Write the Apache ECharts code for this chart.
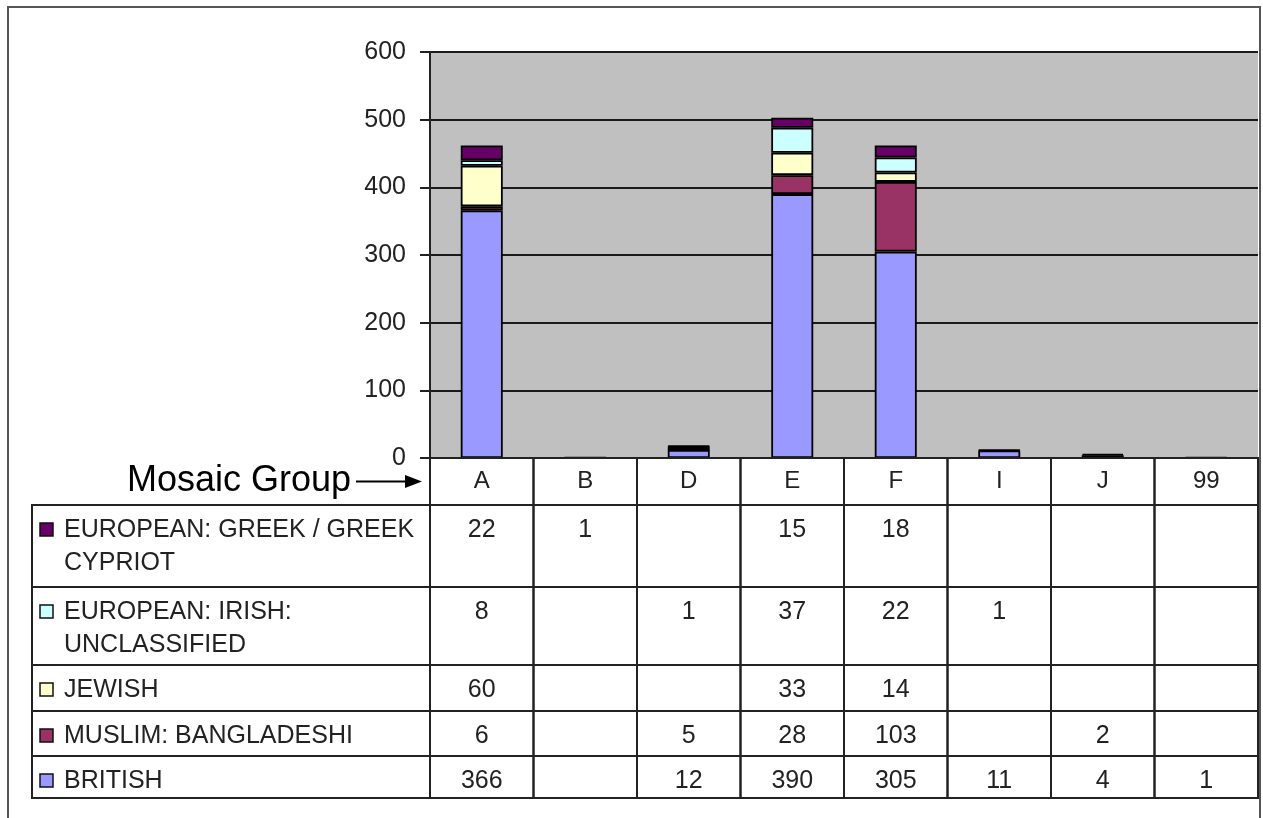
<!DOCTYPE html>
<html>
<head>
<meta charset="utf-8">
<title>Mosaic Group</title>
<script src="https://cdn.jsdelivr.net/npm/echarts@6/dist/echarts.min.js"></script>
<style>
  html, body { margin: 0; padding: 0; background: #fff; }
  #chart { width: 1263px; height: 818px; }
</style>
</head>
<body>
<div id="chart"></div>
<script>
// ---- data ----
const categories = ['A', 'B', 'D', 'E', 'F', 'I', 'J', '99'];
const british           = [366, null, 12, 390, 305, 11, 4, 1];
const muslimBangladeshi = [6, null, 5, 28, 103, null, 2, null];
const jewish            = [60, null, null, 33, 14, null, null, null];
const irishUnclassified = [8, null, 1, 37, 22, 1, null, null];
const greekCypriot      = [22, 1, null, 15, 18, null, null, null];
const yTicks = [0, 100, 200, 300, 400, 500, 600];
const axisTitle = 'Mosaic Group';

// stacking order, bottom to top
const seriesDefs = [
  { name: 'BRITISH', values: british, color: '#9999ff' },
  { name: 'MUSLIM: BANGLADESHI', values: muslimBangladeshi, color: '#993366' },
  { name: 'JEWISH', values: jewish, color: '#ffffcc' },
  { name: 'EUROPEAN: IRISH: UNCLASSIFIED', values: irishUnclassified, color: '#ccffff' },
  { name: 'EUROPEAN: GREEK / GREEK CYPRIOT', values: greekCypriot, color: '#660066' }
];
// data table lists the series top to bottom
const tableSeries = seriesDefs.slice().reverse();

// ---- layout ----
const FONT = '"Liberation Sans", Arial, sans-serif';
const TEXT = '#222';
const LINE = '#222';
const PLOT_LEFT = 430, PLOT_RIGHT = 5, PLOT_TOP = 52, PLOT_BOTTOM_Y = 458;
const LEGEND_LEFT = 32;
// row edges of the data table, in px below the category axis
const ROW_EDGES = [0, 47, 129, 207, 253, 298, 340];
const TABLE_HEIGHT = ROW_EDGES[ROW_EDGES.length - 1];

const chart = echarts.init(document.getElementById('chart'), null, { renderer: 'canvas' });

// one datum per table cell: [column, row]; row 0 is the category header
const tableCells = [];
for (let r = 0; r < ROW_EDGES.length - 1; r++) {
  for (let c = 0; c < categories.length; c++) tableCells.push([c, r]);
}

function renderTableCell(params, api) {
  const c = api.value(0);
  const r = api.value(1);
  const top = api.coord([c, ROW_EDGES[r]])[1];
  const bottom = api.coord([c, ROW_EDGES[r + 1]])[1];
  const cx = api.coord([c, 0])[0];
  const w = api.size([1, 0])[0];
  const children = [{
    type: 'rect',
    shape: { x: cx - w / 2, y: top, width: w, height: bottom - top },
    style: { fill: 'none', stroke: LINE, lineWidth: 2 }
  }];
  if (r > 0) {
    const s = tableSeries[r - 1];
    const v = s.values[c];
    if (v !== null && v !== undefined) {
      children.push({
        type: 'text',
        style: {
          x: cx, y: top + 25, text: String(v),
          align: 'center', verticalAlign: 'middle',
          font: '25px ' + FONT, fill: TEXT
        }
      });
    }
    if (c === 0) {
      const left = cx - w / 2;
      children.push({
        type: 'rect',
        shape: { x: LEGEND_LEFT, y: top, width: left - LEGEND_LEFT, height: bottom - top },
        style: { fill: 'none', stroke: LINE, lineWidth: 2 }
      });
      children.push({
        type: 'rect',
        shape: { x: LEGEND_LEFT + 8, y: top + 18, width: 13, height: 13 },
        style: { fill: s.color, stroke: '#111', lineWidth: 1.5 }
      });
      children.push({
        type: 'text',
        style: {
          x: LEGEND_LEFT + 32, y: top + 9, text: s.name,
          width: 362, overflow: 'break', lineHeight: 33,
          align: 'left', verticalAlign: 'top',
          font: '25px ' + FONT, fill: TEXT
        }
      });
    }
  }
  return { type: 'group', children: children };
}

const barSeries = seriesDefs.map(function (s) {
  return {
    name: s.name,
    type: 'bar',
    stack: 'total',
    xAxisIndex: 0,
    yAxisIndex: 0,
    barWidth: 42,
    data: s.values,
    itemStyle: { color: s.color, borderColor: '#000', borderWidth: 1.8 },
    emphasis: { disabled: true },
    z: 3
  };
});

const option = {
  animation: false,
  backgroundColor: '#ffffff',
  textStyle: { fontFamily: FONT },
  grid: [
    {
      left: PLOT_LEFT, right: PLOT_RIGHT, top: PLOT_TOP, bottom: 818 - PLOT_BOTTOM_Y,
      show: true, backgroundColor: '#c0c0c0', borderWidth: 0
    },
    {
      left: PLOT_LEFT, right: PLOT_RIGHT, top: PLOT_BOTTOM_Y, height: TABLE_HEIGHT,
      show: false
    }
  ],
  xAxis: [
    {
      gridIndex: 0, type: 'category', data: categories,
      axisLine: { show: true, lineStyle: { color: LINE, width: 2 } },
      axisTick: { show: false },
      axisLabel: {
        show: true, margin: 23, verticalAlign: 'middle',
        fontSize: 24, fontFamily: FONT, color: TEXT
      },
      splitLine: { show: false }
    },
    {
      gridIndex: 1, type: 'category', data: categories, show: false
    }
  ],
  yAxis: [
    {
      gridIndex: 0, type: 'value', min: yTicks[0], max: yTicks[yTicks.length - 1], interval: 100,
      axisLine: { show: true, lineStyle: { color: LINE, width: 2 } },
      axisTick: { show: true, inside: false, length: 10, lineStyle: { color: LINE, width: 2 } },
      axisLabel: { margin: 24, fontSize: 25, fontFamily: FONT, color: TEXT },
      splitLine: { show: true, lineStyle: { color: '#1a1a1a', width: 2 } }
    },
    {
      gridIndex: 1, type: 'value', min: 0, max: TABLE_HEIGHT, inverse: true, show: false
    }
  ],
  series: barSeries.concat([{
    type: 'custom',
    name: 'table',
    xAxisIndex: 1,
    yAxisIndex: 1,
    data: tableCells,
    renderItem: renderTableCell,
    silent: true,
    clip: false,
    z: 5
  }]),
  graphic: [
    {
      type: 'rect', z: 0, silent: true,
      shape: { x: 8, y: 7, width: 1252, height: 840 },
      style: { fill: 'none', stroke: '#555', lineWidth: 2 }
    },
    {
      type: 'text', z: 10, silent: true,
      style: {
        x: 351, y: 481, text: axisTitle,
        align: 'right', verticalAlign: 'middle',
        font: '36px ' + FONT, fill: '#000'
      }
    },
    {
      type: 'line', z: 10, silent: true,
      shape: { x1: 356, y1: 481.5, x2: 408, y2: 481.5 },
      style: { stroke: '#000', lineWidth: 2 }
    },
    {
      type: 'polygon', z: 10, silent: true,
      shape: { points: [[422, 481.5], [405, 475], [405, 488]] },
      style: { fill: '#000' }
    }
  ]
};

chart.setOption(option);
</script>
</body>
</html>
